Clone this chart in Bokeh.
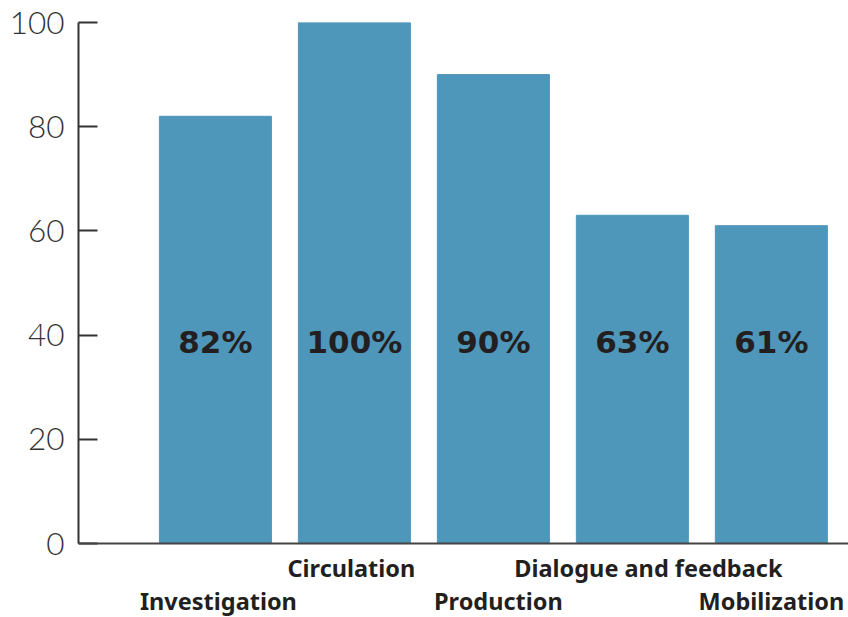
from bokeh.plotting import figure
from bokeh.models import ColumnDataSource, LabelSet, FixedTicker, Range1d, Span
from bokeh.core.properties import value
from bokeh.embed import file_html
from bokeh.resources import INLINE

categories = ["Investigation", "Circulation", "Production", "Dialogue and feedback", "Mobilization"]
values = [82, 100, 90, 63, 61]
pct_labels = ["82%", "100%", "90%", "63%", "61%"]
y_ticks = [0, 20, 40, 60, 80, 100]

xs = list(range(len(categories)))
# staggered label rows (screen-pixel offsets below the baseline) and small horizontal nudges
label_dy = [-57 if i % 2 == 0 else -24 for i in xs]
label_dx = [3, -3, 5, 16, 0]

src = ColumnDataSource(dict(x=xs, top=values, pct=pct_labels, cat=categories,
                            dy=label_dy, dx=label_dx,
                            ymid=[38.7] * len(xs), zero=[0] * len(xs)))

p = figure(width=848, height=617, output_backend="svg", toolbar_location=None,
           x_range=Range1d(-0.985, 4.555), y_range=Range1d(-14.2, 100),
           min_border_left=78, min_border_right=0, min_border_top=22, min_border_bottom=0)
p.outline_line_color = None
p.background_fill_color = "white"
p.border_fill_color = "white"
p.xgrid.visible = False
p.ygrid.visible = False
p.xaxis.visible = False

p.vbar(x="x", top="top", width=0.806, bottom=0, source=src, color="#4f96bb")

p.add_layout(Span(location=0, dimension="width", line_color="#444444", line_width=2))

p.yaxis.bounds = (0, 100)
p.yaxis.ticker = FixedTicker(ticks=y_ticks)
p.yaxis.major_tick_in = 19
p.yaxis.major_tick_out = 0
p.yaxis.minor_tick_line_color = None
p.yaxis.axis_line_width = 2
p.yaxis.axis_line_color = "#333333"
p.yaxis.major_tick_line_width = 2
p.yaxis.major_tick_line_color = "#333333"
p.yaxis.major_label_text_font = "Lato Light"
p.yaxis.major_label_text_font_size = "31.5px"
p.yaxis.major_label_text_color = "#333333"
p.yaxis.major_label_standoff = 14

pct = LabelSet(x="x", y="ymid", text="pct", source=src, text_align="center",
               text_baseline="middle", text_font=value("DejaVu Sans"),
               text_font_style="bold", text_font_size=value("31px"), text_color="#231f20")
p.add_layout(pct)

cats = LabelSet(x="x", y="zero", text="cat", source=src, x_offset="dx", y_offset="dy",
                text_align="center", text_baseline="middle", text_font=value("Noto Sans"),
                text_font_style="bold", text_font_size=value("23.5px"), text_color="#231f20")
p.add_layout(cats)

open("out.html", "w").write(file_html(p, INLINE))
